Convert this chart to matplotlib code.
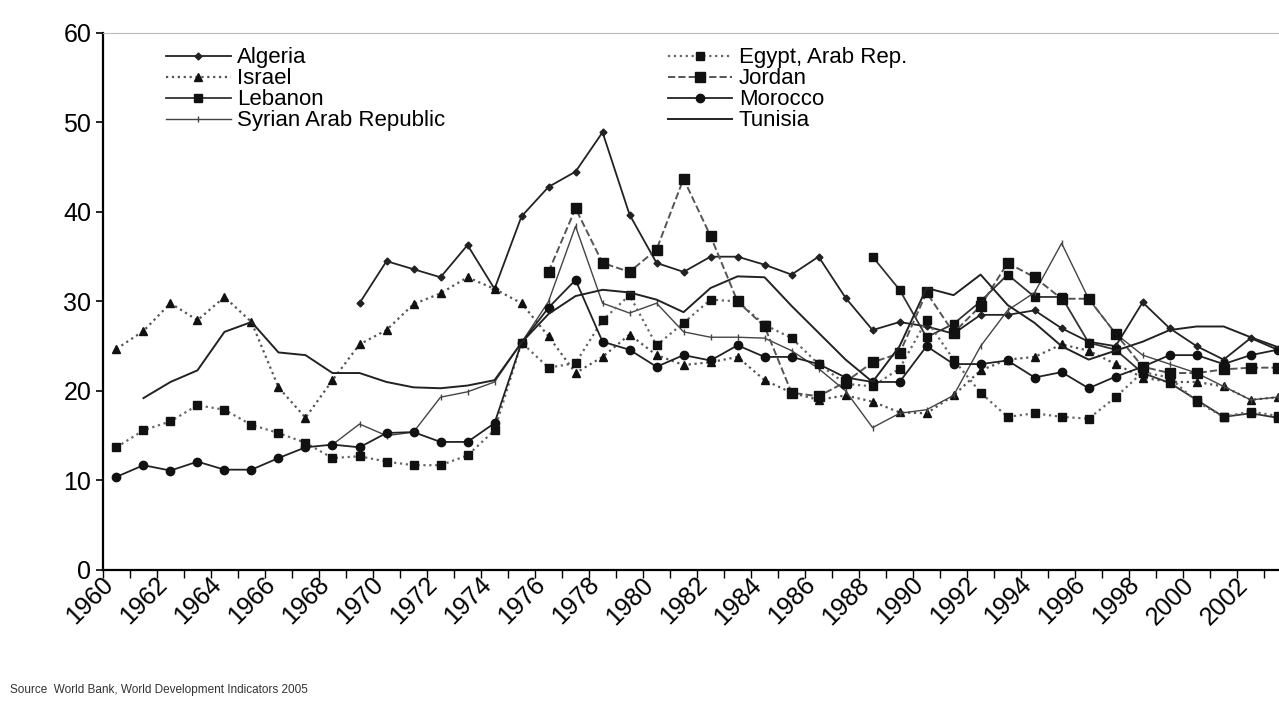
import numpy as np
import matplotlib
matplotlib.use("Agg")
import matplotlib.pyplot as plt
from matplotlib.transforms import ScaledTranslation

nan = np.nan
years = list(range(1960, 2004))

algeria = [nan] * 9 + [29.8, 34.5, 33.6, 32.7, 36.3, 31.4, 39.5, 42.8, 44.5, 48.9, 39.7,
                       34.3, 33.3, 35.0, 35.0, 34.1, 33.0, 35.0, 30.4, 26.8, 27.7,
                       27.2, 26.4, 28.5, 28.5, 29.0, 27.0, 25.5, 25.0, 29.9, 27.0,
                       25.0, 23.5, 25.9, 24.6]
egypt = [13.7, 15.6, 16.6, 18.4, 17.9, 16.2, 15.3, 14.2, 12.5, 12.7, 12.1, 11.7, 11.7, 12.8,
         15.6, 25.4, 22.6, 23.1, 27.9, 30.7, 25.1, 27.6, 30.2, 30.0, 27.4, 25.9, 23.0, 20.8,
         20.5, 22.5, 27.9, 23.5, 19.8, 17.1, 17.5, 17.1, 16.9, 19.3, 22.1, 21.5, 18.8, 17.1,
         17.7, 17.2]
israel = [24.7, 26.7, 29.8, 27.9, 30.5, 27.7, 20.4, 17.0, 21.2, 25.2, 26.8, 29.7, 30.9, 32.7,
          31.4, 29.8, 26.1, 22.0, 23.8, 26.3, 24.0, 22.9, 23.2, 23.8, 21.2, 19.8, 19.0, 19.5,
          18.8, 17.6, 17.5, 19.5, 22.3, 23.5, 23.8, 25.2, 24.5, 23.0, 21.5, 21.0, 21.0, 20.5,
          19.0, 19.3]
jordan = [nan] * 16 + [33.3, 40.4, 34.3, 33.3, 35.8, 43.7, 37.3, 30.0, 27.2, 19.8, 19.4, 21.0,
                       23.2, 24.2, 31.0, 26.5, 29.5, 34.3, 32.7, 30.3, 30.3, 26.4, 22.7, 22.0,
                       22.0, 22.4, 22.6, 22.6]
lebanon = [nan] * 28 + [35.0, 31.3, 26.0, 27.5, 30.0, 33.0, 30.5, 30.5, 25.4, 24.6, 22.0, 20.9,
                        19.0, 17.1, 17.5, 17.0]
morocco = [10.4, 11.7, 11.1, 12.1, 11.2, 11.2, 12.5, 13.7, 14.0, 13.7, 15.3, 15.4, 14.3, 14.3,
           16.4, 25.4, 29.3, 32.4, 25.5, 24.6, 22.7, 24.0, 23.4, 25.1, 23.8, 23.8, 23.0, 21.5,
           21.0, 21.0, 25.0, 23.0, 23.0, 23.4, 21.5, 22.1, 20.3, 21.6, 22.7, 24.0, 24.0, 23.0,
           24.0, 24.6]
syria = [nan] * 8 + [14.0, 16.3, 15.0, 15.4, 19.3, 19.9, 21.0, 25.4, 30.0, 38.4, 29.8, 28.7,
                     29.8, 26.6, 26.0, 26.0, 25.9, 24.5, 22.5, 20.0, 15.9, 17.5, 17.9, 19.5,
                     25.0, 29.0, 31.0, 36.5, 30.3, 26.4, 24.0, 23.0, 22.0, 20.5, 19.0, 19.3]
tunisia = [nan, 19.2, 21.0, 22.3, 26.6, 27.7, 24.3, 24.0, 22.0, 22.0, 21.0, 20.4, 20.3, 20.6,
           21.2, 25.4, 28.6, 30.6, 31.3, 31.0, 30.2, 28.8, 31.5, 32.8, 32.7, 29.5, 26.5, 23.5,
           21.0, 25.0, 31.5, 30.7, 33.0, 29.6, 27.6, 25.0, 23.5, 24.5, 25.5, 26.8, 27.2, 27.2,
           26.0, 24.9]

series = [
    ("Algeria", algeria, dict(ls="-", marker="D", ms=3.5, lw=1.3, color="#222222")),
    ("Israel", israel, dict(ls=":", marker="^", ms=6, lw=1.6, color="#555555",
                            mfc="#111111", mec="#111111")),
    ("Lebanon", lebanon, dict(ls="-", marker="s", ms=6, lw=1.3, color="#333333",
                              mfc="#111111", mec="#111111")),
    ("Syrian Arab Republic", syria, dict(ls="-", marker="|", ms=5, lw=1.0, color="#444444")),
    ("Egypt, Arab Rep.", egypt, dict(ls=":", marker="s", ms=6, lw=1.6, color="#666666",
                                     mfc="#111111", mec="#111111")),
    ("Jordan", jordan, dict(ls="--", marker="s", ms=7.5, lw=1.4, color="#555555",
                            mfc="#111111", mec="#111111")),
    ("Morocco", morocco, dict(ls="-", marker="o", ms=6, lw=1.3, color="#222222",
                              mfc="#111111", mec="#111111")),
    ("Tunisia", tunisia, dict(ls="-", marker=None, lw=1.4, color="#222222")),
]

plt.rcParams["font.family"] = ["Liberation Sans", "DejaVu Sans"]

fig = plt.figure(figsize=(12.79, 7.01), dpi=100)
ax = fig.add_axes([0.0805, 0.187, 0.929, 0.766])

x = np.arange(len(years))
for name, vals, style in series:
    ax.plot(x, vals, label=name, **style)

ax.set_xlim(-0.5, len(years) - 0.5)
ax.set_ylim(0, 60)
ax.set_yticks(range(0, 61, 10))

# tick marks between categories, labels centred on every second year
ax.set_xticks(np.arange(-0.5, len(years), 1.0))
ax.set_xticklabels([])
ax.set_xticks(x[::2], minor=True)
ax.set_xticklabels([str(y) for y in years[::2]], minor=True, rotation=45, ha="right",
                   rotation_mode="anchor", fontsize=18)
ax.tick_params(axis="x", which="major", direction="out", length=6, width=1.0)
ax.tick_params(axis="x", which="minor", length=0, pad=4)
ax.tick_params(axis="y", labelsize=18, direction="out", length=5, width=1.2)
shift = ScaledTranslation(-11 / 72, 2 / 72, fig.dpi_scale_trans)
for lab in ax.get_xticklabels(minor=True):
    lab.set_transform(lab.get_transform() + shift)

ax.spines["right"].set_visible(False)
ax.spines["top"].set_color("#bbbbbb")
ax.spines["left"].set_linewidth(1.6)
ax.spines["bottom"].set_linewidth(1.6)

ax.legend(loc="upper left", bbox_to_anchor=(0.042, 0.998), ncol=2, frameon=False,
          fontsize=16, handlelength=2.9, handletextpad=0.3, columnspacing=10.0,
          labelspacing=0.0, borderaxespad=0.2)

fig.text(0.008, 0.012, "Source  World Bank, World Development Indicators 2005",
         fontsize=8.5, color="#333333")

fig.savefig("out.png", dpi=100)
